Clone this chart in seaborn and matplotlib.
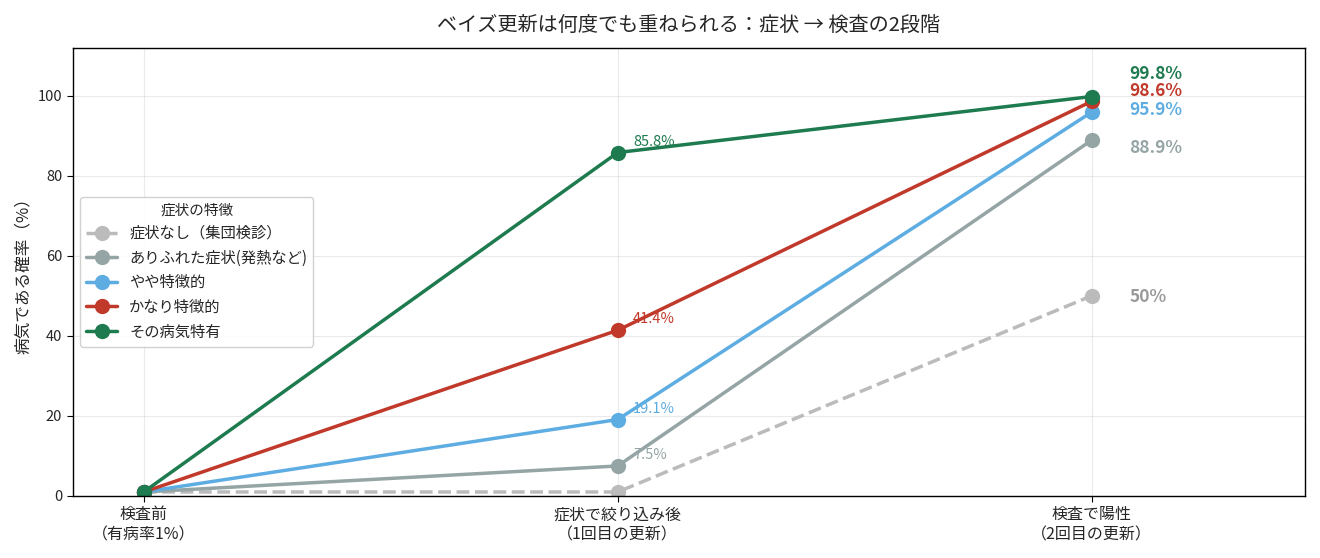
import matplotlib
matplotlib.use("Agg")
import matplotlib.pyplot as plt
import seaborn as sns
import pandas as pd

# stages and series
stages = ["検査前\n（有病率1%）", "症状で絞り込み後\n（1回目の更新）", "検査で陽性\n（2回目の更新）"]
series_names = ["症状なし（集団検診）", "ありふれた症状(発熱など)", "やや特徴的", "かなり特徴的", "その病気特有"]
p_none = [1.0, 1.0, 50.0]
p_common = [1.0, 7.5, 88.9]
p_some = [1.0, 19.1, 95.9]
p_quite = [1.0, 41.4, 98.6]
p_specific = [1.0, 85.8, 99.8]
end_labels = ["50%", "88.9%", "95.9%", "98.6%", "99.8%"]
mid_labels = [None, "7.5%", "19.1%", "41.4%", "85.8%"]

colors = ["#bbbbbb", "#95a5a6", "#5dade2", "#c0392b", "#1e7b4f"]
label_y = [49.6, 87.0, 96.5, 101.2, 105.5]

sns.set_style("whitegrid")
plt.rcParams["font.family"] = ["Noto Sans CJK JP", "DejaVu Sans"]

fig, ax = plt.subplots(figsize=(13.2, 5.58), dpi=100)

all_vals = [p_none, p_common, p_some, p_quite, p_specific]
for name, vals, c in zip(series_names, all_vals, colors):
    df = pd.DataFrame({"stage": [0, 1, 2], "prob": vals})
    ls = "--" if c == "#bbbbbb" else "-"
    sns.lineplot(data=df, x="stage", y="prob", ax=ax, color=c, marker="o",
                 markersize=11, markeredgewidth=0, linewidth=2.5, linestyle=ls,
                 label=name)

for vals, lab, c in zip(all_vals, mid_labels, colors):
    if lab is not None:
        ax.annotate(lab, (1, vals[1]), xytext=(11, 5), textcoords="offset points",
                    color=c, fontsize=10.5)

for ly, lab, c in zip(label_y, end_labels, colors):
    tc = "#999999" if c == "#bbbbbb" else c
    ax.text(2.08, ly, lab, color=tc, fontsize=12.5, fontweight="bold", va="center")

ax.set_xticks([0, 1, 2])
ax.set_xticklabels(stages, fontsize=11.5)
ax.tick_params(axis="y", labelsize=10.5)
ax.set_xlim(-0.15, 2.45)
ax.set_ylim(0, 112)
ax.set_xlabel("")
ax.set_ylabel("病気である確率（%）", fontsize=12)
ax.set_title("ベイズ更新は何度でも重ねられる：症状 → 検査の2段階", fontsize=14.5, pad=12)
ax.grid(True, alpha=0.4)
for s in ax.spines.values():
    s.set_color("black")
    s.set_linewidth(1)
ax.tick_params(axis="both", which="both", length=4, color="black", bottom=True, left=True)

leg = ax.legend(title="症状の特徴", loc="center left", bbox_to_anchor=(0.0, 0.5),
                fontsize=11, title_fontsize=10.5, framealpha=0.9)

plt.tight_layout()
plt.savefig("out.png", dpi=100)
